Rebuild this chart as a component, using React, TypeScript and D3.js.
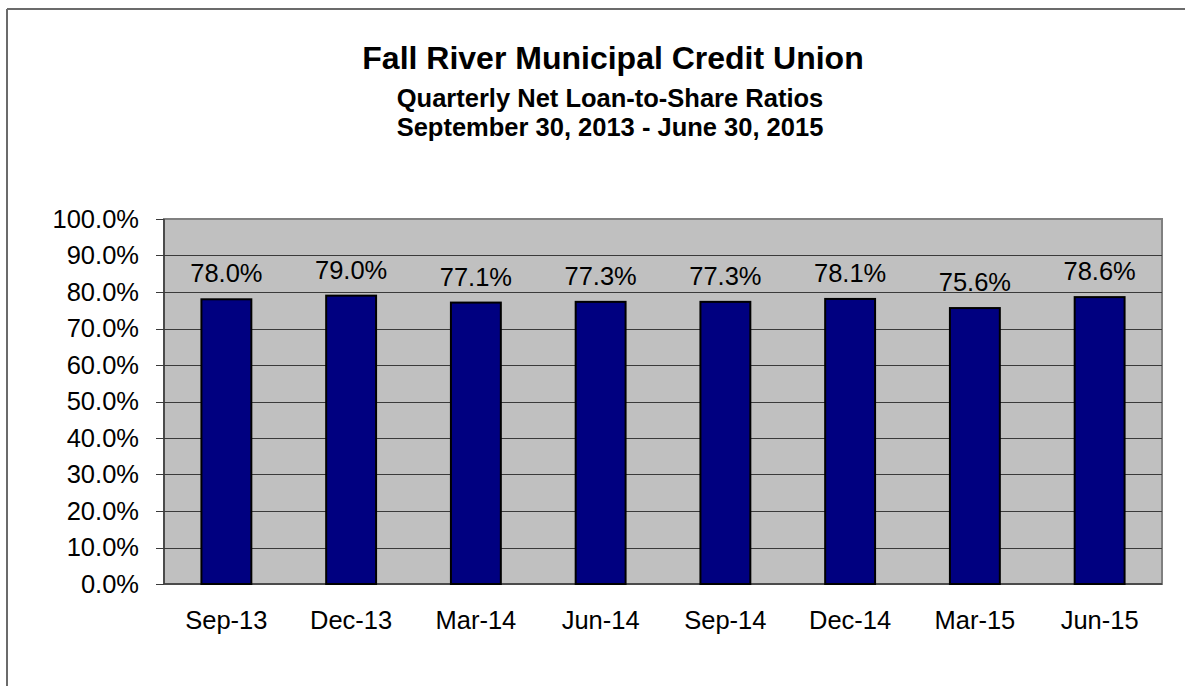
import React from "react";
import * as d3 from "d3";

const categories = ["Sep-13", "Dec-13", "Mar-14", "Jun-14", "Sep-14", "Dec-14", "Mar-15", "Jun-15"];
const ratios = [78.0, 79.0, 77.1, 77.3, 77.3, 78.1, 75.6, 78.6];
const yTicks = [0, 10, 20, 30, 40, 50, 60, 70, 80, 90, 100];
const title = "Fall River Municipal Credit Union";
const subtitle1 = "Quarterly Net Loan-to-Share Ratios";
const subtitle2 = "September 30, 2013 - June 30, 2015";

const W = 1185;
const H = 686;
const plot = { left: 164, right: 1162, top: 219, bottom: 584 };
const FONT = "Arial, 'Liberation Sans', sans-serif";

export default function App() {
  const x = d3.scaleBand<string>().domain(categories).range([plot.left, plot.right]).paddingInner(0.6).paddingOuter(0.3);
  const y = d3.scaleLinear().domain([0, 100]).range([plot.bottom, plot.top]);
  const fmt = (v: number) => v.toFixed(1) + "%";

  return (
    <svg width={W} height={H} style={{ position: "absolute", left: 0, top: 0, background: "#fff" }} fontFamily={FONT}>
      {/* outer frame */}
      <line x1={7} y1={9} x2={W} y2={9} stroke="#6b6b6b" strokeWidth={2} />
      <line x1={7} y1={9} x2={7} y2={H} stroke="#6b6b6b" strokeWidth={2} />

      {/* titles */}
      <text x={613} y={69} textAnchor="middle" fontSize={32} fontWeight="bold">{title}</text>
      <text x={610} y={107} textAnchor="middle" fontSize={25.5} fontWeight="bold">{subtitle1}</text>
      <text x={610} y={136} textAnchor="middle" fontSize={25.5} fontWeight="bold">{subtitle2}</text>

      {/* plot area */}
      <rect x={plot.left} y={plot.top} width={plot.right - plot.left} height={plot.bottom - plot.top} fill="#c0c0c0" stroke="#808080" strokeWidth={2} />

      {/* gridlines */}
      {yTicks.filter((t) => t > 0 && t < 100).map((t) => (
        <line key={"g" + t} x1={plot.left} x2={plot.right} y1={Math.round(y(t)) + 0.5} y2={Math.round(y(t)) + 0.5} stroke="#3a3a3a" strokeWidth={1} />
      ))}

      {/* axes */}
      <line x1={plot.left} x2={plot.left} y1={plot.top} y2={plot.bottom} stroke="#3a3a3a" strokeWidth={1.5} />
      <line x1={plot.left} x2={plot.right} y1={plot.bottom} y2={plot.bottom} stroke="#3a3a3a" strokeWidth={1.5} />
      {yTicks.map((t) => (
        <g key={"t" + t}>
          <line x1={plot.left - 8} x2={plot.left} y1={Math.round(y(t)) + 0.5} y2={Math.round(y(t)) + 0.5} stroke="#3a3a3a" strokeWidth={1} />
          <text x={139} y={y(t)} dy="0.35em" textAnchor="end" fontSize={25.5}>{fmt(t)}</text>
        </g>
      ))}

      {/* bars */}
      {categories.map((c, i) => (
        <g key={c}>
          <rect x={x(c)!} y={y(ratios[i])} width={x.bandwidth()} height={plot.bottom - y(ratios[i])} fill="#000080" stroke="#000" strokeWidth={2} />
          <text x={x(c)! + x.bandwidth() / 2} y={y(ratios[i]) - 17} textAnchor="middle" fontSize={25.5}>{fmt(ratios[i])}</text>
          <text x={x(c)! + x.bandwidth() / 2} y={629} textAnchor="middle" fontSize={25.5}>{c}</text>
        </g>
      ))}
    </svg>
  );
}
